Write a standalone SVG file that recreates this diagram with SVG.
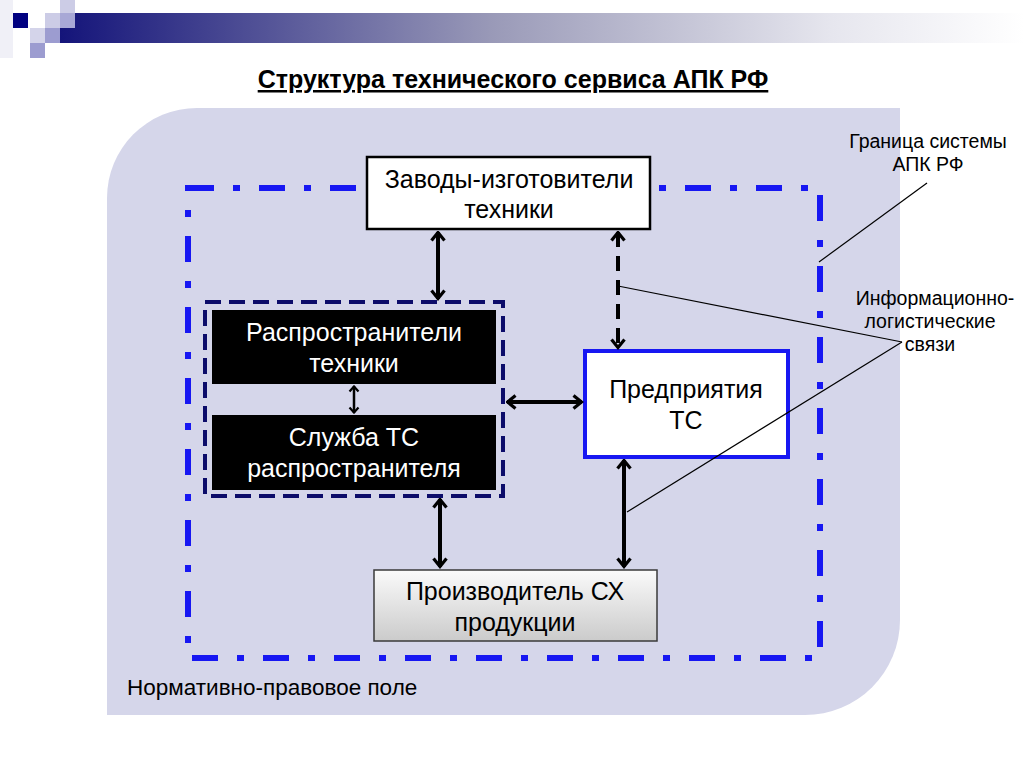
<svg xmlns="http://www.w3.org/2000/svg" width="1024" height="767" viewBox="0 0 1024 767">
<defs>
<linearGradient id="bar" x1="0" y1="0" x2="1" y2="0">
<stop offset="0" stop-color="#14147a"/>
<stop offset="0.45" stop-color="#9a9ab8"/>
<stop offset="0.8" stop-color="#e6e6ee"/>
<stop offset="1" stop-color="#ffffff"/>
</linearGradient>
<linearGradient id="grey" x1="0" y1="0" x2="0" y2="1">
<stop offset="0" stop-color="#fafafa"/>
<stop offset="1" stop-color="#cbcbcb"/>
</linearGradient>
<marker id="ah" viewBox="0 0 12 16" refX="10.5" refY="8" markerWidth="12" markerHeight="16" orient="auto-start-reverse" markerUnits="userSpaceOnUse">
<path d="M2,1.5 L10,8 L2,14.5" fill="none" stroke="#000" stroke-width="3.2" stroke-linejoin="miter"/>
</marker>
<marker id="ahs" viewBox="0 0 8 12" refX="7" refY="6" markerWidth="8" markerHeight="12" orient="auto-start-reverse" markerUnits="userSpaceOnUse">
<path d="M1.5,1.5 L6.5,6 L1.5,10.5" fill="none" stroke="#000" stroke-width="2.2"/>
</marker>
</defs>
<style>
.t{font-family:"Liberation Sans",Arial,sans-serif;font-size:25px;fill:#000;text-anchor:middle}
.w{fill:#fff}
.lab{font-family:"Liberation Sans",Arial,sans-serif;font-size:19.5px;fill:#000;text-anchor:middle}
.arr{stroke:#000;stroke-width:4;fill:none;marker-start:url(#ah);marker-end:url(#ah)}
.lead{stroke:#000;stroke-width:1.2;fill:none}
</style>
<rect width="1024" height="767" fill="#fff"/>
<!-- header decoration -->
<g id="header">
<rect x="0" y="0" width="13" height="58" fill="#f0f0f7"/>
<rect x="60" y="13" width="964" height="30" fill="url(#bar)"/>
<rect x="13" y="13" width="15" height="15" fill="#000080"/>
<rect x="60" y="0" width="15" height="13" fill="#ccccE6"/>
<rect x="45" y="13" width="15" height="15" fill="#ccccE6"/>
<rect x="60" y="13" width="15" height="15" fill="#a8a8d6"/>
<rect x="30" y="28" width="15" height="15" fill="#d4d4ea"/>
<rect x="45" y="28" width="15" height="15" fill="#9c9cd0"/>
<rect x="30" y="43" width="15" height="15" fill="#9c9cd0"/>
</g>
<text x="513" y="88" font-family="Liberation Sans,Arial,sans-serif" font-size="25" font-weight="bold" text-anchor="middle" text-decoration="underline">Структура технического сервиса АПК РФ</text>
<!-- background field -->
<g id="field">
<path d="M197,108 H900 V620 A95,95 0 0 1 805,715 H107 V198 A90,90 0 0 1 197,108 Z" fill="#d5d6ea"/>
<text x="127" y="695" font-family="Liberation Sans,Arial,sans-serif" font-size="22.5" fill="#000">Нормативно-правовое поле</text>
</g>
<g id="system-boundary">
<rect x="188" y="188" width="632" height="470" fill="none" stroke="#1717f2" stroke-width="6" stroke-dasharray="26 19 7 19"/>
</g>
<g id="distributors-group">
<rect x="205" y="302" width="298" height="194" fill="none" stroke="#0c0c6a" stroke-width="4" stroke-dasharray="16 8"/>
</g>
<g id="node-zavody">
<rect x="367" y="157" width="283" height="72" fill="#fff" stroke="#000" stroke-width="2.5"/>
<text class="t" x="509" y="188">Заводы-изготовители</text>
<text class="t" x="509" y="218">техники</text>
</g>
<g id="node-rasprostraniteli">
<rect x="212" y="310" width="284" height="74" fill="#000"/>
<text class="t w" x="354" y="341">Распространители</text>
<text class="t w" x="354" y="372">техники</text>
</g>
<g id="node-sluzhba">
<rect x="212" y="415" width="284" height="75" fill="#000"/>
<text class="t w" x="354" y="446">Служба ТС</text>
<text class="t w" x="354" y="477">распространителя</text>
</g>
<g id="node-predpriyatiya">
<rect x="585" y="351" width="203" height="106" fill="#fff" stroke="#1717f2" stroke-width="4"/>
<text class="t" x="686" y="398">Предприятия</text>
<text class="t" x="686" y="429">ТС</text>
</g>
<g id="node-proizvoditel">
<rect x="374" y="570" width="283" height="71" fill="url(#grey)" stroke="#3a3a3a" stroke-width="1.5"/>
<text class="t" x="515" y="600">Производитель СХ</text>
<text class="t" x="515" y="631">продукции</text>
</g>
<g id="connectors">
<line class="arr" x1="438" y1="232" x2="438" y2="299"/>
<line class="arr" x1="618" y1="232" x2="618" y2="348" stroke-dasharray="15 9"/>
<line class="arr" x1="507" y1="402" x2="582" y2="402"/>
<line class="arr" x1="440" y1="499" x2="440" y2="567"/>
<line class="arr" x1="624" y1="460" x2="624" y2="567"/>
<line x1="354" y1="386" x2="354" y2="413" stroke="#000" stroke-width="2.5" marker-start="url(#ahs)" marker-end="url(#ahs)"/>
<line class="lead" x1="927" y1="183" x2="819" y2="262"/>
<line class="lead" x1="618" y1="286" x2="902" y2="342"/>
<line class="lead" x1="627" y1="512" x2="902" y2="342"/>
</g>
<g id="labels">
<text class="lab" x="928" y="148">Граница системы</text>
<text class="lab" x="928" y="171">АПК РФ</text>
<text class="lab" x="935" y="305">Информационно-</text>
<text class="lab" x="930" y="328">логистические</text>
<text class="lab" x="930" y="351">связи</text>
</g>
</svg>
